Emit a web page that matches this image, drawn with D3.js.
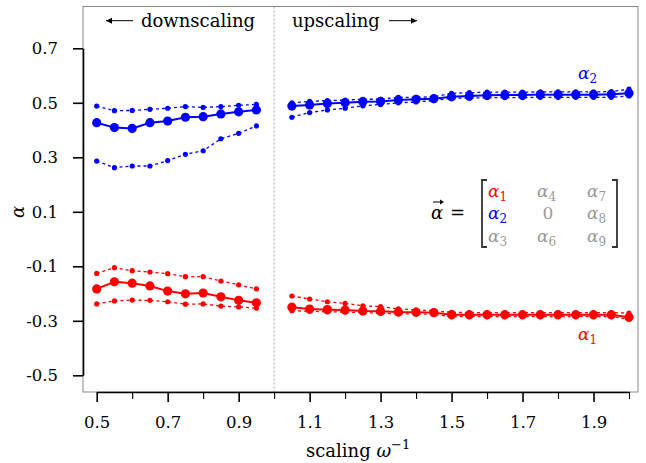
<!DOCTYPE html>
<meta charset="utf-8">
<style>
body { margin: 0; background: #fff; }
text { font-family: "DejaVu Serif", serif; }
.axis path, .axis line { stroke: #000; stroke-width: 1.6px; }
.minor line { stroke: #000; stroke-width: 1.1px; }
.axis text { font-size: 16.5px; fill: #000; }
.frame { fill: none; stroke: #888; stroke-width: 1px; }
.meanline { fill: none; stroke-width: 2px; }
.boundline { fill: none; stroke-width: 1.3px; stroke-dasharray: 3,3; }
</style>
<body>
<script src="https://cdnjs.cloudflare.com/ajax/libs/d3/7.8.5/d3.min.js"></script>
<script>

// scaling factors
var downX = [0.5, 0.55, 0.6, 0.65, 0.7, 0.75, 0.8, 0.85, 0.9, 0.95];
var upX = [1.05, 1.1, 1.15, 1.2, 1.25, 1.3, 1.35, 1.4, 1.45, 1.5,
           1.55, 1.6, 1.65, 1.7, 1.75, 1.8, 1.85, 1.9, 1.95, 2.0];

// alpha_2 (blue) downscaling
var a2DownMean = [0.427, 0.409, 0.406, 0.427, 0.433, 0.447, 0.449, 0.459, 0.467, 0.474];
var a2DownHi   = [0.488, 0.471, 0.472, 0.476, 0.480, 0.486, 0.483, 0.486, 0.491, 0.494];
var a2DownLo   = [0.286, 0.262, 0.268, 0.268, 0.288, 0.311, 0.324, 0.368, 0.388, 0.415];
// alpha_1 (red) downscaling
var a1DownMean = [-0.183, -0.157, -0.162, -0.172, -0.191, -0.201, -0.198, -0.212, -0.225, -0.234];
var a1DownHi   = [-0.126, -0.105, -0.116, -0.121, -0.127, -0.138, -0.138, -0.154, -0.168, -0.183];
var a1DownLo   = [-0.238, -0.227, -0.224, -0.225, -0.230, -0.239, -0.238, -0.246, -0.249, -0.254];

// alpha_2 (blue) upscaling
var a2UpMean = [0.488, 0.492, 0.497, 0.500, 0.504, 0.505, 0.510, 0.513, 0.515, 0.522,
                0.525, 0.528, 0.529, 0.529, 0.530, 0.530, 0.530, 0.530, 0.531, 0.535];
var a2UpHi   = [0.500, 0.505, 0.508, 0.510, 0.513, 0.513, 0.520, 0.520, 0.522, 0.535,
                0.537, 0.539, 0.539, 0.539, 0.540, 0.540, 0.540, 0.540, 0.541, 0.550];
var a2UpLo   = [0.447, 0.464, 0.474, 0.480, 0.489, 0.494, 0.500, 0.503, 0.508, 0.517,
                0.517, 0.519, 0.519, 0.519, 0.520, 0.520, 0.520, 0.520, 0.520, 0.525];
// alpha_1 (red) upscaling
var a1UpMean = [-0.250, -0.257, -0.259, -0.260, -0.264, -0.265, -0.268, -0.269, -0.270, -0.278,
                -0.278, -0.278, -0.278, -0.278, -0.278, -0.278, -0.278, -0.278, -0.278, -0.287];
var a1UpHi   = [-0.209, -0.220, -0.230, -0.236, -0.245, -0.248, -0.256, -0.260, -0.264, -0.269,
                -0.270, -0.270, -0.270, -0.270, -0.270, -0.270, -0.270, -0.270, -0.270, -0.272];
var a1UpLo   = [-0.263, -0.265, -0.267, -0.268, -0.270, -0.272, -0.274, -0.275, -0.276, -0.285,
                -0.285, -0.285, -0.285, -0.285, -0.285, -0.285, -0.285, -0.285, -0.285, -0.294];

// tick values
var yTicks = [-0.5, -0.3, -0.1, 0.1, 0.3, 0.5, 0.7];
var xMajor = [0.5, 0.7, 0.9, 1.1, 1.3, 1.5, 1.7, 1.9];
var xMinor = [0.6, 0.8, 1.0, 1.2, 1.4, 1.6, 1.8, 2.0];

var red = "#ff0000", blue = "#0000ff", grey = "#999999";

var margin = {top: 6.5, right: 8, bottom: 71, left: 83},
    width = 646 - margin.left - margin.right,
    height = 463 - margin.top - margin.bottom;

var x = d3.scaleLinear().domain([0.5, 2.0]).range([13.7, 546]);
var y = d3.scaleLinear().domain([-0.5, 0.7]).range([368.8, 41.8]);

var svg = d3.select("body").append("svg")
    .attr("width", 646)
    .attr("height", 463);
var g = svg.append("g")
    .attr("transform", "translate(" + margin.left + "," + margin.top + ")");

// frame
g.append("rect")
    .attr("class", "frame")
    .attr("width", width)
    .attr("height", height);

// divider at omega = 1
g.append("line")
    .attr("x1", x(1.0)).attr("x2", x(1.0))
    .attr("y1", 0).attr("y2", height)
    .attr("stroke", "#aaa")
    .attr("stroke-width", 1)
    .attr("stroke-dasharray", "2,2");

var line = d3.line()
    .x(function(d) { return x(d[0]); })
    .y(function(d) { return y(d[1]); });

function drawSeries(xs, ys, color, cls, r) {
  var data = xs.map(function(v, i) { return [v, ys[i]]; });
  g.append("path")
      .datum(data)
      .attr("class", cls)
      .attr("stroke", color)
      .attr("d", line);
  g.selectAll(null)
      .data(data)
      .enter().append("circle")
      .attr("cx", function(d) { return x(d[0]); })
      .attr("cy", function(d) { return y(d[1]); })
      .attr("r", r)
      .attr("fill", color);
}

drawSeries(downX, a2DownHi, blue, "boundline", 2.6);
drawSeries(downX, a2DownLo, blue, "boundline", 2.6);
drawSeries(downX, a2DownMean, blue, "meanline", 4.6);
drawSeries(downX, a1DownHi, red, "boundline", 2.6);
drawSeries(downX, a1DownLo, red, "boundline", 2.6);
drawSeries(downX, a1DownMean, red, "meanline", 4.6);

drawSeries(upX, a2UpHi, blue, "boundline", 2.6);
drawSeries(upX, a2UpLo, blue, "boundline", 2.6);
drawSeries(upX, a2UpMean, blue, "meanline", 4.6);
drawSeries(upX, a1UpHi, red, "boundline", 2.6);
drawSeries(upX, a1UpLo, red, "boundline", 2.6);
drawSeries(upX, a1UpMean, red, "meanline", 4.6);

// y axis
g.append("g")
    .attr("class", "axis")
    .call(d3.axisLeft(y).tickValues(yTicks).tickSize(10).tickSizeOuter(0)
      .tickPadding(15).tickFormat(function(d) { return d.toFixed(1); }));

// x axis
g.append("g")
    .attr("class", "axis")
    .attr("transform", "translate(0," + height + ")")
    .call(d3.axisBottom(x).tickValues(xMajor).tickSize(10).tickSizeOuter(0)
      .tickPadding(14).tickFormat(function(d) { return d.toFixed(1); }));
var minor = g.append("g")
    .attr("class", "axis minor")
    .attr("transform", "translate(0," + height + ")")
    .call(d3.axisBottom(x).tickValues(xMinor).tickSize(7).tickFormat(""));
minor.select(".domain").remove();

// axis titles
var xt = svg.append("text")
    .attr("x", 306).attr("y", 457)
    .attr("font-size", 18);
xt.append("tspan").text("scaling ");
xt.append("tspan").attr("font-style", "italic").text("ω");
xt.append("tspan").attr("font-size", 13).attr("dy", -8).text("−1");

svg.append("text")
    .attr("transform", "translate(24,212) rotate(-90)")
    .attr("text-anchor", "middle")
    .attr("font-size", 18)
    .attr("font-style", "italic")
    .text("α");

// header
function arrow(x1, x2, yy) {
  var dir = x2 > x1 ? 1 : -1;
  svg.append("line")
      .attr("x1", x1).attr("x2", x2).attr("y1", yy).attr("y2", yy)
      .attr("stroke", "#000").attr("stroke-width", 1);
  svg.append("path")
      .attr("d", "M" + (x2 - dir * 6) + "," + (yy - 3) + "L" + x2 + "," + yy +
                 "L" + (x2 - dir * 6) + "," + (yy + 3) + "Z")
      .attr("fill", "#000");
}
arrow(133, 106, 20.7);
svg.append("text").attr("x", 141).attr("y", 26.5).attr("font-size", 18).text("downscaling");
svg.append("text").attr("x", 292).attr("y", 26.5).attr("font-size", 18).text("upscaling");
arrow(389, 417, 20.7);

// series labels
function alpha(parent, xx, yy, sub, color, anchor) {
  var t = parent.append("text")
      .attr("x", xx).attr("y", yy)
      .attr("font-size", 17)
      .attr("fill", color)
      .attr("text-anchor", anchor || "start");
  t.append("tspan").attr("font-style", "italic").text("α");
  t.append("tspan").attr("font-size", 12).attr("dy", 4).text(sub);
  return t;
}
alpha(svg, 578, 79, "2", blue);
alpha(svg, 578, 340, "1", red);

// vector matrix
svg.append("text")
    .attr("x", 431).attr("y", 219)
    .attr("font-size", 18)
    .attr("font-style", "italic")
    .text("α");
svg.append("line")
    .attr("x1", 433).attr("x2", 443).attr("y1", 202).attr("y2", 202)
    .attr("stroke", "#000").attr("stroke-width", 1);
svg.append("path").attr("d", "M440,199.5L444,202L440,204.5Z").attr("fill", "#000");
svg.append("text").attr("x", 450).attr("y", 219).attr("font-size", 18).text("=");

svg.append("path")
    .attr("d", "M487,180H482V247H487")
    .attr("fill", "none").attr("stroke", "#333").attr("stroke-width", 1.8);
svg.append("path")
    .attr("d", "M612,180H617V247H612")
    .attr("fill", "none").attr("stroke", "#333").attr("stroke-width", 1.8);

var cells = [
  ["1", "4", "7"],
  ["2", null, "8"],
  ["3", "6", "9"]
];
var rowY = [197, 219, 242], colX = [488, 537, 587];
cells.forEach(function(row, i) {
  row.forEach(function(s, j) {
    var c = grey;
    if (i === 0 && j === 0) c = red;
    if (i === 1 && j === 0) c = blue;
    if (s === null) {
      svg.append("text").attr("x", colX[j] + 11).attr("y", rowY[i])
          .attr("text-anchor", "middle").attr("font-size", 17).attr("fill", grey).text("0");
    } else {
      alpha(svg, colX[j], rowY[i], s, c);
    }
  });
});

</script>
</body>
